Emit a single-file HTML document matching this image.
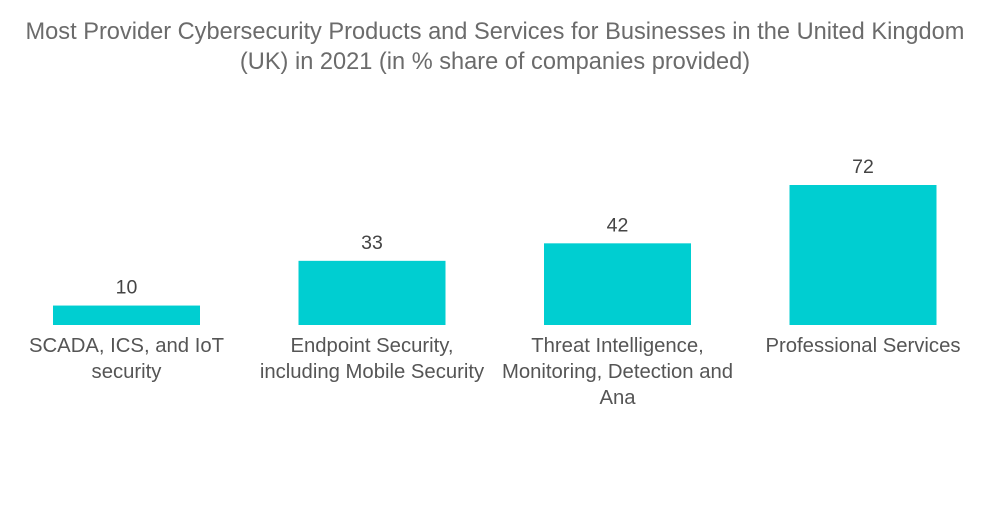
<!DOCTYPE html>
<html>
<head>
<meta charset="utf-8">
<style>
  html,body{margin:0;padding:0;background:#fff;}
  body{width:1000px;height:504px;overflow:hidden;font-family:"Liberation Sans",sans-serif;}
  svg text{font-family:"Liberation Sans",sans-serif;}
</style>
</head>
<body>
<svg id="chart" width="1000" height="504" viewBox="0 0 1000 504">
  <text x="495" y="39" text-anchor="middle" font-size="23.6" fill="#6b6b6b">Most Provider Cybersecurity Products and Services for Businesses in the United Kingdom</text>
  <text x="495" y="69" text-anchor="middle" font-size="23.6" fill="#6b6b6b">(UK) in 2021 (in % share of companies provided)</text>
  <g id="bars"></g>
</svg>
<script>
const categories = [
  ["SCADA, ICS, and IoT", "security"],
  ["Endpoint Security,", "including Mobile Security"],
  ["Threat Intelligence,", "Monitoring, Detection and", "Ana"],
  ["Professional Services"]
];
const values = [10, 33, 42, 72];
const valueLabels = ["10", "33", "42", "72"];

const baseline = 325, pxPerUnit = 140 / 72;
const firstLeft = 53, step = 245.5, barW = 147;
function yScale(v){ return baseline - v * pxPerUnit; }
function xScale(i){ return firstLeft + i * step; }

const ns = "http://www.w3.org/2000/svg";
const g = document.getElementById("bars");
values.forEach((v, i) => {
  const x = xScale(i), y = yScale(v);
  const r = document.createElementNS(ns, "rect");
  r.setAttribute("x", x); r.setAttribute("y", y);
  r.setAttribute("width", barW); r.setAttribute("height", baseline - y);
  r.setAttribute("fill", "#00ced1");
  
  
  g.appendChild(r);

  const t = document.createElementNS(ns, "text");
  t.setAttribute("x", x + barW / 2); t.setAttribute("y", y - 12);
  t.setAttribute("text-anchor", "middle"); t.setAttribute("font-size", "19.5");
  t.setAttribute("fill", "#444");
  t.textContent = valueLabels[i];
  
  
  g.appendChild(t);

  categories[i].forEach((line, j) => {
    const c = document.createElementNS(ns, "text");
    c.setAttribute("x", x + barW / 2); c.setAttribute("y", 352 + j * 26);
    c.setAttribute("text-anchor", "middle"); c.setAttribute("font-size", "20.3");
    c.setAttribute("fill", "#555");
    c.textContent = line;
    
    
    g.appendChild(c);
  });
});
</script>
</body>
</html>
